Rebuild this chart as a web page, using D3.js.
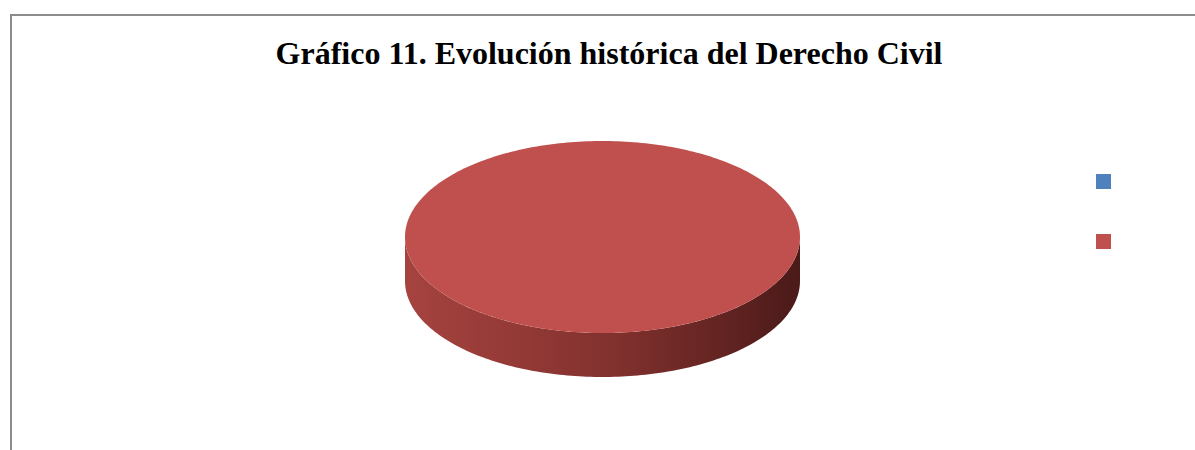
<!DOCTYPE html>
<html>
<head>
<meta charset="utf-8">
<script src="https://cdn.jsdelivr.net/npm/d3@7"></script>
<style>
  body { margin: 0; background: #fff; }
  #chart svg { display: block; }
</style>
</head>
<body>
<div id="chart"></div>
<script>
// Data
const categories = ['', '']
const values = [0, 100]
const colorsList = ['#4F81BD', '#C0504D']
const title = 'Gráfico 11. Evolución histórica del Derecho Civil'

function draw() {
  const dataset = categories.map((name, i) => ({ name: name, value: values[i] }))

  const dimensions = { width: 1195, height: 450 }
  const pieBox = { cx: 602.5, cy: 237, rx: 197.5, ry: 96, depth: 44 }

  const svg = d3.select('#chart')
    .append('svg')
    .attr('width', dimensions.width)
    .attr('height', dimensions.height)

  // cornice del grafico (solo lato sinistro e superiore visibili)
  svg.append('path')
    .attr('d', 'M11,450 L11,15 L1195,15')
    .attr('fill', 'none')
    .attr('stroke', '#8c8c8c')
    .attr('stroke-width', 2)

  svg.append('text')
    .attr('x', 609)
    .attr('y', 64)
    .attr('text-anchor', 'middle')
    .style('font-family', '"Liberation Serif", "Times New Roman", serif')
    .style('font-weight', 'bold')
    .style('font-size', '32px')
    .text(title)

  const colorScale = d3.scaleOrdinal()
    .domain(dataset.map((d, i) => d.name + '|' + i))
    .range(colorsList)

  const pie = d3.pie().value(d => d.value).sort(null)
  const slices = pie(dataset).filter(d => d.endAngle - d.startAngle > 0)

  // gradiente per il lato del cilindro
  const defs = svg.append('defs')
  const grad = defs.append('linearGradient')
    .attr('id', 'sideGrad')
    .attr('gradientUnits', 'userSpaceOnUse')
    .attr('x1', pieBox.cx - pieBox.rx).attr('x2', pieBox.cx + pieBox.rx)
    .attr('y1', 0).attr('y2', 0)
  const stops = [[0, '#a5433f'], [0.3, '#933936'], [0.55, '#7f302d'], [0.8, '#632422'], [1, '#4a1a19']]
  grad.selectAll('stop').data(stops).join('stop')
    .attr('offset', d => d[0]).attr('stop-color', d => d[1])

  const pt = (a, dy) => {
    const t = a - Math.PI / 2
    return [pieBox.cx + pieBox.rx * Math.cos(t), pieBox.cy + pieBox.ry * Math.sin(t) + dy]
  }
  const sample = (a0, a1, dy) => {
    const n = Math.max(2, Math.ceil((a1 - a0) / 0.02))
    return d3.range(n + 1).map(i => pt(a0 + (a1 - a0) * i / n, dy))
  }

  // lati frontali (angoli d3 tra PI/2 e 3PI/2)
  const sides = svg.append('g')
  slices.forEach(d => {
    const a0 = Math.max(d.startAngle, Math.PI / 2)
    const a1 = Math.min(d.endAngle, 3 * Math.PI / 2)
    if (a1 <= a0) return
    const top = sample(a0, a1, 0)
    const bottom = sample(a0, a1, pieBox.depth).reverse()
    sides.append('path')
      .attr('d', d3.line()(top.concat(bottom)) + 'Z')
      .attr('fill', 'url(#sideGrad)')
  })

  // facce superiori
  svg.append('g').selectAll('path')
    .data(slices)
    .join('path')
    .attr('d', d => {
      const pts = sample(d.startAngle, d.endAngle, 0)
      const full = d.endAngle - d.startAngle >= 2 * Math.PI - 1e-6
      return full ? d3.line()(pts) + 'Z' : d3.line()([[pieBox.cx, pieBox.cy]].concat(pts)) + 'Z'
    })
    .attr('fill', d => colorScale(d.data.name + '|' + d.index))

  // legenda (senza etichette)
  const legend = svg.append('g')
  const legendY = d3.scalePoint().domain(d3.range(dataset.length)).range([174, 234])
  legend.selectAll('rect')
    .data(dataset)
    .join('rect')
    .attr('x', 1096)
    .attr('y', (d, i) => legendY(i))
    .attr('width', 15)
    .attr('height', 15)
    .attr('fill', (d, i) => colorScale(d.name + '|' + i))
  legend.selectAll('text')
    .data(dataset)
    .join('text')
    .attr('x', 1118)
    .attr('y', (d, i) => legendY(i) + 12)
    .style('font-family', '"Liberation Serif", serif')
    .style('font-size', '14px')
    .text(d => d.name)
}

draw()
</script>
</body>
</html>
